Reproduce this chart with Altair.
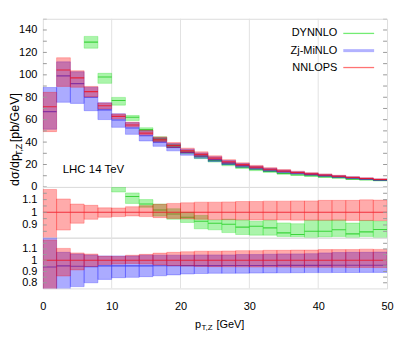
import altair as alt
import pandas as pd

# ---------------- data ----------------
bin_lo = [0, 2, 4, 6, 8, 10, 12, 14, 16, 18, 20, 22, 24, 26, 28, 30, 32, 34, 36, 38, 40, 42, 44, 46, 48]
bin_hi = [2, 4, 6, 8, 10, 12, 14, 16, 18, 20, 22, 24, 26, 28, 30, 32, 34, 36, 38, 40, 42, 44, 46, 48, 50]

# NNLOPS central value [pb/GeV] and relative band (ratio to central)
nnlops = [71.5, 104.3, 97.3, 85.0, 72.4, 62.9, 55.3, 48.0, 42.0, 37.0, 32.2, 29.0, 25.7,
          22.5, 19.9, 17.7, 15.8, 14.2, 12.9, 11.7, 10.6, 9.5, 8.4, 7.5, 6.6]
nnlops_up = [1.18, 1.105, 1.065, 1.055, 1.035, 1.034, 1.044, 1.052, 1.063, 1.07, 1.075, 1.08, 1.08,
             1.082, 1.085, 1.085, 1.088, 1.088, 1.09, 1.09, 1.094, 1.094, 1.094, 1.098, 1.096]
nnlops_dn = [0.69, 0.86, 0.914, 0.945, 0.961, 0.966, 0.971, 0.966, 0.958, 0.952, 0.948, 0.945, 0.943,
             0.942, 0.941, 0.94, 0.94, 0.939, 0.938, 0.938, 0.937, 0.937, 0.936, 0.936, 0.935]

# Zj-MiNLO / NNLOPS
minlo_r = [0.94, 0.95, 0.947, 0.942, 0.95, 0.95, 0.95, 0.95, 0.951, 0.951, 0.952, 0.952, 0.952,
           0.953, 0.953, 0.953, 0.953, 0.954, 0.954, 0.954, 0.954, 0.955, 0.955, 0.955, 0.955]
minlo_up = [1.24, 1.07, 1.056, 1.047, 1.038, 1.038, 1.038, 1.045, 1.045, 1.045, 1.045, 1.047, 1.047,
            1.047, 1.05, 1.05, 1.053, 1.056, 1.056, 1.058, 1.065, 1.068, 1.07, 1.07, 1.072]
minlo_dn = [0.72, 0.724, 0.766, 0.80, 0.83, 0.845, 0.848, 0.854, 0.862, 0.87, 0.878, 0.882, 0.884,
            0.884, 0.885, 0.886, 0.887, 0.888, 0.889, 0.89, 0.89, 0.891, 0.891, 0.892, 0.892]

# DYNNLO / NNLOPS (first three bins off scale)
dynnlo_r = [None, None, None, 1.52, 1.355, 1.226, 1.125, 1.065, 1.018, 0.987, 0.961, 0.93, 0.914,
            0.906, 0.883, 0.89, 0.877, 0.838, 0.825, 0.85, 0.85, 0.862, 0.83, 0.846, 0.865]
dynnlo_up = [None, None, None, 1.58, 1.40, 1.27, 1.153, 1.10, 1.065, 1.028, 1.0, 0.975, 0.94,
             0.945, 0.94, 0.93, 0.937, 0.916, 0.91, 0.937, 0.937, 0.94, 0.915, 0.935, 0.93]
dynnlo_dn = [None, None, None, 1.456, 1.276, 1.16, 1.07, 1.04, 0.97, 0.945, 0.92, 0.87, 0.862,
             0.84, 0.825, 0.82, 0.82, 0.81, 0.807, 0.8, 0.805, 0.81, 0.8, 0.81, 0.80]

legend_names = ["DYNNLO", "Zj-MiNLO", "NNLOPS"]
x_ticks = [0, 10, 20, 30, 40, 50]
x_grid = [10, 20, 30, 40]
top_labels = [0, 20, 40, 60, 80, 100, 120, 140]
top_minor = [10, 30, 50, 70, 90, 110, 130, 150]
mid_labels = [0.9, 1, 1.1]
mid_minor = [0.85, 0.95, 1.05, 1.15]
bot_labels = [0.8, 0.9, 1, 1.1]
bot_minor = [0.85, 0.95, 1.05, 1.15]

# ---------------- style ----------------
W, HT, HR = 346, 169, 51
FONT = "Liberation Sans"
RED, BLUE, GREEN = "#ff0000", "#0000ff", "#00dd00"
FILL_OP = 0.33
FRAME = "#9a9a9a"
NB = "\u00a0"


def series(central, up, dn):
    rows = []
    for i in range(len(bin_lo)):
        if central[i] is None:
            continue
        ref = nnlops[i]
        rows.append(dict(lo=bin_lo[i], hi=bin_hi[i],
                         rc=central[i], rup=up[i], rdn=dn[i],
                         c=central[i] * ref, up=up[i] * ref, dn=dn[i] * ref))
    return pd.DataFrame(rows)


df_red = series([1.0] * len(nnlops), nnlops_up, nnlops_dn)
df_blue = series(minlo_r, minlo_up, minlo_dn)
df_green = series(dynnlo_r, dynnlo_up, dynnlo_dn)

XS = alt.Scale(domain=[0, 50], nice=False, zero=False)


def X(field, bottom):
    if bottom:
        ax = alt.Axis(values=x_ticks, format="d", tickSize=0, domain=False, grid=False,
                      labelPadding=12, labelFlush=False, labelOverlap=False, title=None,
                      labelFont=FONT, labelFontSize=11, labelColor="black")
        return alt.X(f"{field}:Q", scale=XS, axis=ax)
    return alt.X(f"{field}:Q", scale=XS, axis=None)


def Y(field, domain, labels, fmt):
    ax = alt.Axis(values=labels, format=fmt, tickSize=0, domain=False, grid=False,
                  labelPadding=6, labelFlush=False, labelOverlap=False, title=None,
                  labelFont=FONT, labelFontSize=11, labelColor="black")
    return alt.Y(f"{field}:Q", scale=alt.Scale(domain=domain, nice=False, zero=False), axis=ax)


def panel(domain, labels, minor, ratio, bottom, parts, fmt):
    ylo, yhi, yc = ("rdn", "rup", "rc") if ratio else ("dn", "up", "c")
    layers = []
    layers.append(alt.Chart(pd.DataFrame({"v": x_grid})).mark_rule(color="#e2e2e2", strokeWidth=1)
                  .encode(x=X("v", bottom)))
    for df, col, lcol in parts:
        layers.append(alt.Chart(df).mark_rect(fill=col, fillOpacity=FILL_OP, stroke=col, strokeOpacity=0.3,
                                              strokeWidth=0.8, clip=True)
                      .encode(x=X("lo", bottom), x2="hi:Q", y=Y(ylo, domain, labels, fmt), y2=f"{yhi}:Q"))
        layers.append(alt.Chart(df).mark_rule(color=lcol, strokeWidth=1.1, opacity=0.8, clip=True)
                      .encode(x=X("lo", bottom), x2="hi:Q", y=Y(yc, domain, labels, fmt)))
    tdf = pd.DataFrame({"v": labels + minor})
    for x0, x1 in ((0, 4), (W - 4, W)):
        layers.append(alt.Chart(tdf).mark_rule(color=FRAME, strokeWidth=1, clip=True)
                      .encode(x=alt.value(x0), x2=alt.value(x1), y=Y("v", domain, labels, fmt)))
    return layers


parts_top = [(df_green, GREEN, "#22cc22"), (df_blue, BLUE, "#3333ee"), (df_red, RED, "#ee1122")]
parts_mid = [(df_green, GREEN, "#22cc22"), (df_red, RED, "#ee1122")]
parts_bot = [(df_blue, BLUE, "#3333ee"), (df_red, RED, "#ee1122")]

top_layers = panel([0, 150], top_labels, top_minor, False, False, parts_top, "d")


def txt(s, x, y, size=11, angle=0, align="left", baseline="middle"):
    kw = dict(font=FONT, fontSize=size, align=align, baseline=baseline, color="black")
    if angle:
        kw["angle"] = angle
    return alt.Chart(pd.DataFrame({"t": [s]})).mark_text(**kw).encode(
        x=alt.value(x), y=alt.value(y), text="t:N")


# legend
leg_y = [14.7, 32, 49]
leg_style = [(GREEN, 0.55, 1.3), (BLUE, 0.3, 3), (RED, 0.55, 1.3)]
for name, yy, (col, op, sw) in zip(legend_names, leg_y, leg_style):
    top_layers.append(txt(name, 296, yy, align="right"))
    top_layers.append(alt.Chart(pd.DataFrame({"t": [name]})).mark_rule(color=col, opacity=op, strokeWidth=sw)
                      .encode(x=alt.value(302), x2=alt.value(333), y=alt.value(yy)))

top_layers.append(txt("LHC 14 TeV", 20, 152, size=11.5))

# y title (rotated, with subscript)
ty0 = 168
top_layers.append(txt("dσ/dp", -28, ty0, size=12.5, angle=270))
top_layers.append(txt("T,Z", -24, ty0 - 30, size=9, angle=270))
top_layers.append(txt(NB + "[pb/GeV]", -28, ty0 - 30 - 14, size=12.5, angle=270))

top = alt.layer(*top_layers).properties(width=W, height=HT)

mid = alt.layer(*panel([0.8, 1.2], mid_labels, mid_minor, True, False, parts_mid, "~g")).properties(width=W, height=HR)

bot_layers = panel([0.75, 1.2], bot_labels, bot_minor, True, True, parts_bot, "~g")
bot_layers.append(txt("p", 153, 87.5, size=11))
bot_layers.append(txt("T,Z", 159.5, 90.5, size=8))
bot_layers.append(txt("[GeV]", 174.5, 87.5, size=11))
bot = alt.layer(*bot_layers).properties(width=W, height=HR)

chart = alt.vconcat(top, mid, bot, spacing=0, bounds="flush").properties(
    padding={"left": 0, "top": 9, "right": 5, "bottom": 5}
).configure_view(stroke=FRAME, strokeWidth=1).configure(font=FONT)

chart.save("out.html", embed_options={"renderer": "svg", "actions": False})
